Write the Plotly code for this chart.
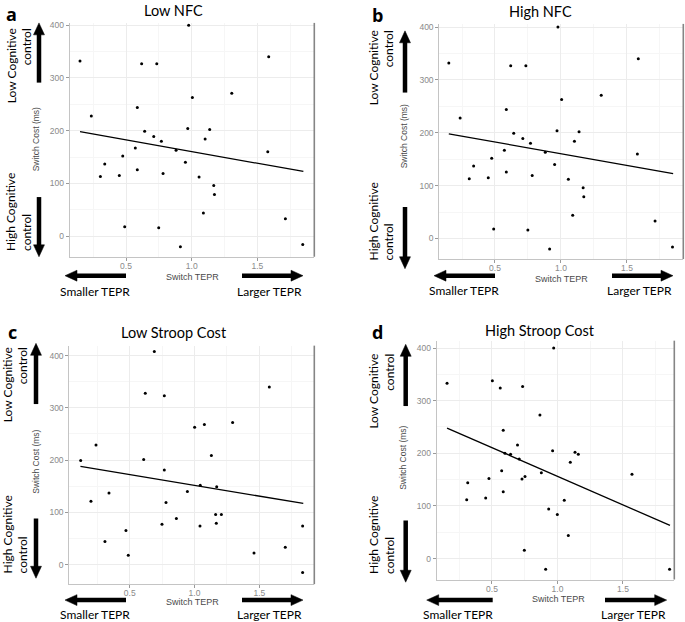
import math
import plotly.graph_objects as go

W, H = 685, 622

# ---------------- data ----------------
titles = ["Low NFC", "High NFC", "Low Stroop Cost", "High Stroop Cost"]
letters = ["a", "b", "c", "d"]

a_x = [0.150, 0.236, 0.305, 0.338, 0.449, 0.475, 0.490, 0.571, 0.586, 0.586, 0.619, 0.642,
       0.711, 0.734, 0.749, 0.769, 0.782, 0.881, 0.914, 0.952, 0.970, 0.977, 1.005, 1.056,
       1.089, 1.102, 1.137, 1.168, 1.173, 1.305, 1.579, 1.586, 1.713, 1.845]
a_y = [332, 228, 113, 137, 115, 152, 18, 167, 244, 126, 327, 199,
       189, 327, 16, 180, 119, 163, -20, 140, 204, 400, 263, 112,
       44, 184, 202, 96, 79, 271, 160, 340, 33, -16]
a_fit_x = [0.150, 1.850]
a_fit_y = [198, 122.6]

b_x = list(a_x)
b_y = list(a_y)
b_fit_x = [0.150, 1.850]
b_fit_y = [198, 122.6]

c_x = [0.122, 0.201, 0.240, 0.309, 0.340, 0.471, 0.489, 0.608, 0.620, 0.690, 0.749, 0.767,
       0.767, 0.780, 0.860, 0.945, 1.001, 1.042, 1.044, 1.076, 1.130, 1.163, 1.168, 1.171,
       1.207, 1.294, 1.459, 1.577, 1.700, 1.834, 1.834]
c_y = [199, 121, 229, 44, 137, 65, 18, 201, 328, 408, 77, 323,
       181, 119, 88, 140, 263, 74, 152, 268, 209, 96, 79, 149,
       96, 272, 22, 340, 33, 74, -15]
c_fit_x = [0.120, 1.839]
c_fit_y = [188, 117]

d_x = [0.157, 0.307, 0.315, 0.452, 0.477, 0.503, 0.563, 0.574, 0.586, 0.586, 0.599, 0.642,
       0.695, 0.708, 0.729, 0.734, 0.752, 0.747, 0.866, 0.877, 0.910, 0.933, 0.963, 0.971,
       0.999, 1.052, 1.083, 1.098, 1.134, 1.159, 1.569, 1.856]
d_y = [333, 112, 144, 115, 152, 338, 324, 167, 244, 127, 200, 198,
       216, 189, 151, 327, 156, 16, 273, 163, -20, 94, 205, 400,
       84, 111, 44, 183, 202, 198, 160, -20]
d_fit_x = [0.157, 1.859]
d_fit_y = [248, 63]

x_ticks = [0.5, 1.0, 1.5]
x_tick_text = ["0.5", "1.0", "1.5"]
y_ticks = [0, 100, 200, 300, 400]
y_tick_text = ["0", "100", "200", "300", "400"]

x_title = "Switch TEPR"
y_title = "Switch Cost (ms)"
up_label = "Low Cognitive<br>control"
down_label = "High Cognitive<br>control"
left_label = "Smaller TEPR"
right_label = "Larger TEPR"

series = [(a_x, a_y, a_fit_x, a_fit_y), (b_x, b_y, b_fit_x, b_fit_y),
          (c_x, c_y, c_fit_x, c_fit_y), (d_x, d_y, d_fit_x, d_fit_y)]

# ---------------- layout geometry (pixels) ----------------
geo = [
    dict(px=(69.7, 314.3), py=(20, 255), xr=(0.0715, 1.933), yr=(-39.1, 404.3),
         letter=(11, 11), title=(174, 8), low=(19, 63.5), high=(19, 210),
         up=(39, 80, 20), down=(39, 195, 255), left=(274, 126, 65), right=(274, 242, 303),
         small=(95, 290), large=(269, 290), xt=(192, 275), yt=(36, 137)),
    dict(px=(439.3, 683.3), py=(21, 257.3), xr=(0.078, 1.927), yr=(-38.9, 406),
         letter=(377.5, 12), title=(540, 9), low=(381.5, 65), high=(381.5, 220),
         up=(405, 90, 28), down=(405, 205, 267), left=(274, 495, 434), right=(274, 612, 673),
         small=(464, 289), large=(639, 289), xt=(561, 277), yt=(404, 134)),
    dict(px=(69.3, 314.3), py=(344.3, 584), xr=(0.034, 1.924), yr=(-37.5, 419),
         letter=(12, 331), title=(174, 331), low=(15, 384), high=(15, 534),
         up=(36, 403, 342), down=(36, 518, 578), left=(600, 126, 65), right=(600, 242, 303),
         small=(95, 614), large=(269, 614), xt=(192, 602), yt=(36, 461)),
    dict(px=(436.7, 674.3), py=(339.3, 579.3), xr=(0.078, 1.892), yr=(-39.7, 414),
         letter=(377.5, 331), title=(540, 329), low=(381.5, 390), high=(381.5, 535),
         up=(405.7, 405, 343), down=(405.7, 520, 582), left=(600, 492.7, 426.7), right=(600, 605, 666.7),
         small=(458, 614), large=(633, 614), xt=(558, 599), yt=(403, 457)),
]


def X(p):
    return p / W


def Y(p):
    return 1 - p / H


LABEL_FONT = "Lato, 'Open Sans', sans-serif"
TICK_FONT = "'Liberation Sans', Arial, sans-serif"

fig = go.Figure()
shapes = []
annotations = []
layout = {}


def arrow(x0, y0, x1, y1):
    dx, dy = x1 - x0, y1 - y0
    L = math.hypot(dx, dy)
    ux, uy = dx / L, dy / L
    hl, hw = 12, 5.5
    bx, by = x1 - ux * hl, y1 - uy * hl
    shapes.append(dict(type="line", xref="paper", yref="paper",
                       x0=X(x0), y0=Y(y0), x1=X(bx + ux), y1=Y(by + uy),
                       line=dict(color="black", width=4.5)))
    px_, py_ = -uy, ux
    pts = [(x1, y1), (bx + px_ * hw, by + py_ * hw), (bx - px_ * hw, by - py_ * hw)]
    path = "M " + " L ".join(f"{X(a):.5f},{Y(b):.5f}" for a, b in pts) + " Z"
    shapes.append(dict(type="path", xref="paper", yref="paper", path=path,
                       fillcolor="black", line=dict(color="black", width=0.5)))


def ann(text, pos, size, family=LABEL_FONT, color="black", angle=0, align="center",
        bold=False):
    annotations.append(dict(text=("<b>%s</b>" % text) if bold else text,
                            x=X(pos[0]), y=Y(pos[1]), xref="paper", yref="paper",
                            xanchor="center", yanchor="middle", showarrow=False,
                            textangle=angle, align=align,
                            font=dict(family=family, size=size, color=color)))


for i, (g, (sx, sy, fx, fy)) in enumerate(zip(geo, series)):
    n = "" if i == 0 else str(i + 1)
    xa, ya = "x" + n, "y" + n
    fig.add_trace(go.Scatter(x=sx, y=sy, mode="markers", xaxis=xa, yaxis=ya,
                             marker=dict(size=3, color="black"), showlegend=False,
                             hoverinfo="x+y"))
    fig.add_trace(go.Scatter(x=fx, y=fy, mode="lines", xaxis=xa, yaxis=ya,
                             line=dict(color="black", width=1.3), showlegend=False,
                             hoverinfo="skip"))
    common = dict(ticks="outside", ticklen=3, tickcolor="#9a9a9a",
                  tickfont=dict(family=TICK_FONT, size=8.5, color="#8a8a8a"),
                  showline=True, linecolor="#c4c4c4", linewidth=1, zeroline=False,
                  showgrid=True, gridcolor="#ececec", gridwidth=1, fixedrange=True)
    layout["xaxis" + n] = dict(
        domain=[X(g["px"][0]), X(g["px"][1])], range=list(g["xr"]), anchor=ya,
        tickvals=x_ticks, ticktext=x_tick_text, ticklabelstandoff=-2,
        minor=dict(dtick=0.25, tick0=0, showgrid=True, gridcolor="#f6f6f6", ticks=""),
        **common)
    layout["yaxis" + n] = dict(
        domain=[Y(g["py"][1]), Y(g["py"][0])], range=list(g["yr"]), anchor=xa,
        tickvals=y_ticks, ticktext=y_tick_text,
        minor=dict(dtick=50, tick0=0, showgrid=True, gridcolor="#f6f6f6", ticks=""),
        **common)

    # right border of the panel
    shapes.append(dict(type="line", xref=xa + " domain", yref=ya + " domain",
                       x0=1, x1=1, y0=0, y1=1, line=dict(color="#858585", width=1.6)))

    ux_, ut, uh = g["up"]
    arrow(ux_, ut, ux_, uh)
    dx_, dt, dh = g["down"]
    arrow(dx_, dt, dx_, dh)
    ly, lt, lh = g["left"]
    arrow(lt, ly, lh, ly)
    ry, rt, rh = g["right"]
    arrow(rt, ry, rh, ry)

    ann(letters[i], g["letter"], 18, bold=True, family="'Open Sans', Lato, sans-serif")
    ann(titles[i], g["title"], 14.5)
    ann(up_label, g["low"], 12, angle=-90, align="right")
    ann(down_label, g["high"], 12, angle=-90, align="left")
    ann(left_label, g["small"], 12)
    ann(right_label, g["large"], 12)
    ann(x_title, g["xt"], 9, family=TICK_FONT, color="#4a4a4a")
    ann(y_title, g["yt"], 8.5, family=TICK_FONT, color="#4a4a4a", angle=-90)

fig.update_layout(width=W, height=H, margin=dict(l=0, r=0, t=0, b=0),
                  paper_bgcolor="white", plot_bgcolor="white",
                  shapes=shapes, annotations=annotations, showlegend=False, **layout)

fig.write_html("out.html", config={"displayModeBar": False},
               post_script="document.body.style.margin='0';document.body.style.overflow='hidden';")
